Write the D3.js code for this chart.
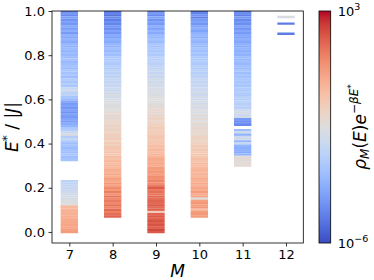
<!DOCTYPE html>
<html><head><meta charset="utf-8">
<script src="https://cdn.jsdelivr.net/npm/d3@7"></script>
<style>body{margin:0;background:#fff}svg text{font-family:"DejaVu Sans",sans-serif}</style>
</head><body>
<svg id="c" width="374" height="280"></svg>
<script>
// ---- data: energy levels [E*/|J|, log10(rho e^{-beta E})] for each M ----
const mValues = [7, 8, 9, 10, 11, 12];
const xTicks = [7, 8, 9, 10, 11, 12];
const yTicks = [0, 0.2, 0.4, 0.6, 0.8, 1.0];
const cbarExp = [-6, 3];

const levels7 = [[1.00,-4.7],[0.99,-4.4],[0.98,-4.7],[0.97,-4.2],[0.96,-4.5],[0.95,-4.1],[0.94,-4.4],[0.93,-3.9],[0.92,-4.2],[0.91,-3.8],[0.90,-4.3],[0.89,-3.7],[0.88,-4.0],[0.87,-3.6],[0.86,-3.9],[0.85,-3.5],[0.84,-3.7],[0.83,-3.4],[0.82,-3.6],[0.81,-3.3],[0.80,-3.5],[0.79,-3.4],[0.78,-3.2],[0.77,-3.5],[0.76,-3.3],[0.75,-3.1],[0.74,-3.4],[0.73,-3.0],[0.72,-3.2],[0.71,-2.9],[0.70,-3.3],[0.69,-2.8],[0.68,-3.1],[0.67,-2.7],[0.66,-3.0],[0.65,-2.3],[0.64,-2.0],[0.63,-2.6],[0.62,-2.4],[0.61,-3.1],[0.60,-3.5],[0.59,-4.0],[0.58,-4.3],[0.57,-4.1],[0.56,-4.4],[0.55,-4.2],[0.54,-4.5],[0.53,-4.1],[0.52,-4.3],[0.51,-4.0],[0.50,-4.2],[0.49,-3.9],[0.48,-3.6],[0.47,-3.0],[0.46,-2.8],[0.45,-2.2],[0.44,-1.6],[0.43,-2.8],[0.42,-2.3],[0.41,-3.0],[0.40,-3.3],[0.39,-3.1],[0.38,-3.4],[0.37,-3.2],[0.36,-3.3],[0.35,-3.1],[0.34,-3.3],[0.33,-3.2],[0.325,-3.1],
  [0.23,-2.5],[0.22,-2.4],[0.21,-2.3],[0.20,-2.2],[0.19,-2.1],[0.18,-2.0],[0.17,-1.9],[0.16,-1.8],[0.15,-1.7],[0.14,-1.6],[0.13,-1.6],[0.12,-1.5],[0.115,-0.2],[0.11,0.0],[0.10,0.1],[0.09,0.2],[0.08,0.2],[0.07,0.3],[0.06,0.3],[0.05,0.4],[0.04,0.4],[0.03,0.5],[0.02,0.5],[0.01,0.6],[0.00,0.7]];

const levels8 = [[1.00,-5.1],[0.99,-4.9],[0.98,-5.2],[0.97,-4.7],[0.96,-5.0],[0.95,-4.5],[0.94,-4.8],[0.93,-4.3],[0.92,-4.6],[0.91,-4.1],[0.90,-4.4],[0.89,-3.9],[0.88,-4.2],[0.87,-3.7],[0.86,-3.9],[0.85,-3.5],[0.84,-3.7],[0.83,-3.3],[0.82,-3.5],[0.81,-3.1],[0.80,-3.3],[0.79,-2.9],[0.78,-3.0],[0.77,-2.7],[0.76,-2.9],[0.75,-2.6],[0.74,-2.8],[0.73,-2.5],[0.72,-2.6],[0.71,-2.3],[0.70,-2.5],[0.69,-2.2],[0.68,-2.4],[0.67,-2.1],[0.66,-2.3],[0.65,-2.0],[0.64,-2.2],[0.63,-1.9],[0.62,-1.7],[0.61,-1.9],[0.60,-1.6],[0.59,-1.8],[0.58,-1.5],[0.57,-1.7],[0.56,-1.4],[0.55,-1.6],[0.54,-1.2],[0.53,-1.4],[0.52,-1.1],[0.51,-1.3],[0.50,-1.0],[0.49,-1.2],[0.48,-0.9],[0.47,-1.1],[0.46,-0.8],[0.45,-1.0],[0.44,-0.7],[0.43,-0.9],[0.42,-0.6],[0.41,-0.8],[0.40,-0.5],[0.39,-0.7],[0.38,-0.4],[0.37,-0.6],[0.36,-0.3],[0.35,-0.5],[0.34,-0.2],[0.33,-0.3],[0.32,0.0],[0.31,-0.2],[0.30,0.1],[0.29,0.0],[0.28,0.3],[0.27,0.1],[0.26,0.4],[0.25,0.2],[0.24,0.6],[0.23,0.4],[0.22,0.8],[0.21,0.6],[0.20,1.1],[0.19,0.8],[0.18,1.3],[0.17,0.9],[0.16,1.5],[0.15,1.0],[0.14,1.4],[0.13,1.1],[0.12,1.6],[0.11,1.2],[0.10,1.7],[0.09,1.3],[0.08,1.6],[0.07,1.8]];

const levels9 = [[1.00,-4.6],[0.99,-4.3],[0.98,-4.7],[0.97,-4.1],[0.96,-4.5],[0.95,-4.0],[0.94,-4.3],[0.93,-3.8],[0.92,-4.1],[0.91,-3.6],[0.90,-3.9],[0.89,-3.4],[0.88,-3.6],[0.87,-3.2],[0.86,-3.4],[0.85,-3.0],[0.84,-3.2],[0.83,-2.9],[0.82,-3.0],[0.81,-2.7],[0.80,-2.9],[0.79,-2.6],[0.78,-2.7],[0.77,-2.4],[0.76,-2.6],[0.75,-2.3],[0.74,-2.4],[0.73,-2.2],[0.72,-2.3],[0.71,-2.0],[0.70,-2.2],[0.69,-1.9],[0.68,-2.0],[0.67,-1.8],[0.66,-1.9],[0.65,-1.7],[0.64,-1.8],[0.63,-1.6],[0.62,-1.7],[0.61,-1.5],[0.60,-1.6],[0.59,-1.4],[0.58,-1.5],[0.57,-1.3],[0.56,-1.4],[0.55,-1.1],[0.54,-1.3],[0.53,-1.0],[0.52,-1.1],[0.51,-0.9],[0.50,-1.0],[0.49,-0.8],[0.48,-0.9],[0.47,-0.6],[0.46,-0.8],[0.45,-0.5],[0.44,-0.6],[0.43,-0.4],[0.42,-0.5],[0.41,-0.3],[0.40,-0.4],[0.39,-0.2],[0.38,-0.3],[0.37,0.0],[0.36,-0.1],[0.35,0.2],[0.34,0.1],[0.33,0.4],[0.32,0.3],[0.31,0.5],[0.30,0.4],[0.29,0.7],[0.28,0.6],[0.27,0.8],[0.26,0.7],[0.25,1.0],[0.24,0.9],[0.23,1.2],[0.22,1.1],[0.21,1.4],[0.20,2.0],[0.19,1.4],[0.18,1.6],[0.17,1.5],[0.16,1.7],[0.15,1.6],[0.14,1.8],[0.13,1.7],[0.12,2.0],[0.11,1.7],[0.10,1.9],[0.09,-0.6],[0.08,1.8],[0.07,2.0],[0.06,1.8],[0.05,2.1],[0.04,1.9],[0.03,2.1],[0.02,1.9],[0.01,2.3],[0.00,2.0]];

const levels10 = [[1.00,-5.1],[0.99,-4.8],[0.98,-4.5],[0.97,-4.9],[0.96,-4.3],[0.95,-4.1],[0.94,-4.4],[0.93,-4.0],[0.92,-3.8],[0.91,-4.1],[0.90,-3.7],[0.89,-3.5],[0.88,-3.8],[0.87,-3.4],[0.86,-3.6],[0.85,-3.3],[0.84,-3.5],[0.83,-3.1],[0.82,-3.3],[0.81,-3.0],[0.80,-3.2],[0.79,-2.9],[0.78,-3.0],[0.77,-2.7],[0.76,-2.9],[0.75,-2.6],[0.74,-2.8],[0.73,-2.5],[0.72,-2.7],[0.71,-2.4],[0.70,-2.5],[0.69,-2.2],[0.68,-2.4],[0.67,-2.1],[0.66,-2.3],[0.65,-2.0],[0.64,-2.2],[0.63,-1.9],[0.62,-2.1],[0.61,-1.8],[0.60,-2.0],[0.59,-1.7],[0.58,-1.9],[0.57,-1.6],[0.56,-1.8],[0.55,-1.5],[0.54,-1.7],[0.53,-1.4],[0.52,-1.6],[0.51,-1.3],[0.50,-1.5],[0.49,-1.2],[0.48,-1.4],[0.47,-1.1],[0.46,-1.3],[0.45,-1.0],[0.44,-1.2],[0.43,-0.9],[0.42,-1.0],[0.41,-0.8],[0.40,-0.9],[0.39,-0.6],[0.38,-0.8],[0.37,-0.5],[0.36,-0.6],[0.35,-0.4],[0.34,-0.5],[0.33,-0.2],[0.32,-0.4],[0.31,-0.1],[0.30,-0.2],[0.29,0.0],[0.28,0.1],[0.27,-0.1],[0.26,0.2],[0.25,0.0],[0.24,0.3],[0.23,0.1],[0.22,0.4],[0.21,0.2],[0.20,0.5],[0.19,0.3],[0.18,0.7],[0.17,0.4],[0.16,0.6],[0.15,-1.4],[0.14,0.6],[0.13,0.8],[0.12,0.6],[0.11,0.8],[0.10,-0.2],[0.09,0.7],[0.08,0.8],[0.07,0.7]];

const levels11 = [[1.00,-4.9],[0.99,-4.6],[0.98,-4.9],[0.97,-4.4],[0.96,-4.7],[0.95,-4.3],[0.94,-4.6],[0.93,-4.1],[0.92,-4.4],[0.91,-4.0],[0.90,-4.3],[0.89,-3.9],[0.88,-4.1],[0.87,-3.8],[0.86,-4.0],[0.85,-3.7],[0.84,-3.9],[0.83,-3.6],[0.82,-3.8],[0.81,-3.5],[0.80,-3.7],[0.79,-3.4],[0.78,-3.6],[0.77,-3.3],[0.76,-3.5],[0.75,-3.2],[0.74,-3.4],[0.73,-3.1],[0.72,-3.3],[0.71,-3.0],[0.70,-3.2],[0.69,-3.0],[0.68,-3.1],[0.67,-2.9],[0.66,-3.1],[0.65,-2.8],[0.64,-3.0],[0.63,-2.7],[0.62,-2.9],[0.61,-2.6],[0.60,-2.8],[0.59,-2.5],[0.58,-2.7],[0.57,-2.4],[0.56,-2.6],[0.55,-2.0],[0.54,-1.8],[0.53,-2.1],[0.52,-1.9],[0.51,-4.3],[0.50,-4.6],[0.49,-4.4],[0.485,-4.7],
  [0.46,-3.3],[0.45,-2.0],[0.44,-3.6],[0.43,-2.1],[0.42,-1.9],[0.41,-3.6],[0.40,-2.2],[0.39,-3.6],[0.38,-3.8],[0.37,-3.7],[0.36,-3.9],[0.35,-3.6],[0.34,-1.4],[0.33,-1.3],[0.32,-1.4],[0.31,-1.3],[0.30,-1.3]];

const levels12 = [[0.973,-1.7],[0.943,-5.0],[0.897,-5.0]];

const levelsByM = [levels7, levels8, levels9, levels10, levels11, levels12];

// coolwarm palette (style)
const coolwarm = ["#3b4cc0","#445acc","#4d68d7","#5775e1","#6282ea","#6c8ef1","#779af7","#82a5fb","#8db0fe","#98b9ff","#a3c2ff","#aec9fd","#b8d0f9","#c2d5f4","#ccd9ee","#d5dbe6","#dddddd","#e5d8d1","#ecd3c5","#f1ccb8","#f5c4ac","#f7bba0","#f7b194","#f7a689","#f49a7b","#f18d6f","#ec7f63","#e57058","#de604d","#d55042","#cb3e38","#c0282f","#b40426"];

// ---- layout ----
const svg = d3.select("#c");
const L = 52, R = 303.3, T = 11, B = 243;
const x = d3.scaleLinear().domain([6.6, 12.4]).range([L, R]);
const y = d3.scaleLinear().domain([-0.05, 1.0]).range([B, T]);
const color = d3.scaleSequential(d3.piecewise(d3.interpolateRgb, coolwarm)).domain([-6, 3]);

svg.append("defs").append("clipPath").attr("id","clip")
  .append("rect").attr("x",L).attr("y",T).attr("width",R-L).attr("height",B-T);

const g = svg.append("g").attr("clip-path","url(#clip)");
mValues.forEach((m, i) => {
  g.append("g").selectAll("line").data(levelsByM[i]).join("line")
    .attr("x1", x(m - 0.2)).attr("x2", x(m + 0.2))
    .attr("y1", d => y(d[0])).attr("y2", d => y(d[0]))
    .attr("stroke", d => color(d[1]))
    .attr("stroke-width", 2.4);
});

// axes
const ax = svg.append("g").attr("transform",`translate(0,${B})`)
  .call(d3.axisBottom(x).tickValues(xTicks).tickFormat(d3.format("d")).tickSize(3.5).tickPadding(3.5));
const ay = svg.append("g").attr("transform",`translate(${L},0)`)
  .call(d3.axisLeft(y).tickValues(yTicks).tickFormat(d3.format(".1f")).tickSize(3.5).tickPadding(3.5));
[ax, ay].forEach(a => {
  a.select(".domain").remove();
  a.selectAll("text").attr("font-size", 13).attr("fill","#000").style("font-family","DejaVu Sans");
  a.selectAll("line").attr("stroke","#000").attr("stroke-width",0.8);
});
svg.append("rect").attr("x",L).attr("y",T).attr("width",R-L).attr("height",B-T)
  .attr("fill","none").attr("stroke","#000").attr("stroke-width",0.8);

// axis labels
svg.append("text").attr("x",(L+R)/2).attr("y",277).attr("text-anchor","middle")
  .attr("font-size",17).attr("font-style","italic").text("M");
const yl = svg.append("text").attr("transform",`translate(18,${(T+B)/2}) rotate(-90)`)
  .attr("text-anchor","middle").attr("font-size",17);
yl.append("tspan").attr("font-style","italic").text("E");
yl.append("tspan").attr("font-size",12).attr("dy",-7).text("*");
yl.append("tspan").attr("dy",7).text(" / |");
yl.append("tspan").attr("font-style","italic").text("J");
yl.append("tspan").text("|");

// colorbar
const CX = 319, CW = 11.7;
const grad = svg.select("defs").append("linearGradient").attr("id","cg")
  .attr("x1",0).attr("y1",1).attr("x2",0).attr("y2",0);
grad.selectAll("stop").data(coolwarm).join("stop")
  .attr("offset",(d,i)=>i/(coolwarm.length-1)).attr("stop-color",d=>d);
svg.append("rect").attr("x",CX).attr("y",T).attr("width",CW).attr("height",B-T)
  .attr("fill","url(#cg)").attr("stroke","#000").attr("stroke-width",0.8);
const cy = d3.scaleLinear().domain([-6,3]).range([B,T]);
cbarExp.forEach(e => {
  const t = svg.append("text").attr("x",CX+CW+7).attr("y",cy(e)+5).attr("font-size",13);
  t.append("tspan").text("10");
  t.append("tspan").attr("font-size",9.5).attr("dy",-6).text(e < 0 ? "\u2212" + (-e) : e);
});
const cl = svg.append("text").attr("transform",`translate(366,${(T+B)/2}) rotate(-90)`)
  .attr("text-anchor","middle").attr("font-size",17);
cl.append("tspan").attr("font-style","italic").text("ρ");
cl.append("tspan").attr("font-style","italic").attr("font-size",12).attr("dy",3).text("M");
cl.append("tspan").attr("dy",-3).text("(");
cl.append("tspan").attr("font-style","italic").text("E");
cl.append("tspan").text(")");
cl.append("tspan").attr("font-style","italic").text("e");
cl.append("tspan").attr("font-size",12).attr("dy",-8).text("\u2212");
cl.append("tspan").attr("font-size",12).attr("font-style","italic").text("βE");
cl.append("tspan").attr("font-size",9).attr("dy",-4).text("*");
</script>
</body></html>
